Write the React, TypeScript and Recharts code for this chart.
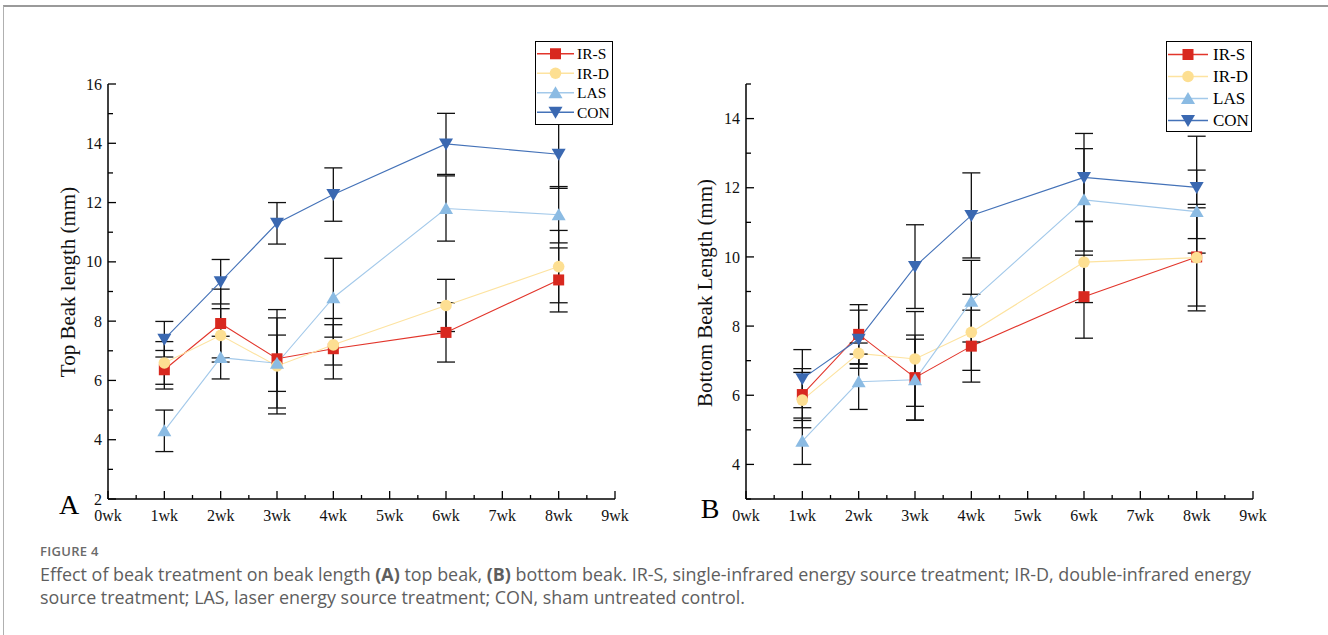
import { LineChart, Line, XAxis, YAxis, ErrorBar, Legend } from 'recharts';

const weeks = [1, 2, 3, 4, 6, 8];
const xTicks = [0, 0.5, 1, 1.5, 2, 2.5, 3, 3.5, 4, 4.5, 5, 5.5, 6, 6.5, 7, 7.5, 8, 8.5, 9];

// (A) top beak length, mm, mean and SD
const topIRS = [6.36, 7.92, 6.73, 7.07, 7.62, 9.39];
const topIRSErr = [0.65, 1.16, 1.66, 1.02, 1.0, 1.08];
const topIRD = [6.59, 7.52, 6.49, 7.2, 8.53, 9.84];
const topIRDErr = [0.72, 0.9, 1.62, 0.68, 0.88, 1.22];
const topLAS = [4.3, 6.77, 6.58, 8.79, 11.8, 11.59];
const topLASErr = [0.7, 0.72, 0.95, 1.33, 1.1, 0.95];
const topCON = [7.39, 9.33, 11.3, 12.27, 13.98, 13.63];
const topCONErr = [0.6, 0.75, 0.7, 0.9, 1.03, 1.15];

// (B) bottom beak length, mm
const botIRS = [6.02, 7.76, 6.51, 7.42, 8.85, 10.0];
const botIRSErr = [0.75, 0.86, 1.23, 1.04, 1.2, 1.42];
const botIRD = [5.86, 7.21, 7.05, 7.82, 9.85, 9.98];
const botIRDErr = [0.8, 0.3, 1.37, 1.1, 1.17, 1.54];
const botLAS = [4.67, 6.39, 6.45, 8.72, 11.65, 11.31];
const botLASErr = [0.67, 0.8, 1.17, 1.18, 1.48, 1.2];
const botCON = [6.48, 7.62, 9.72, 11.2, 12.3, 12.01];
const botCONErr = [0.84, 0.84, 1.21, 1.23, 1.27, 1.48];

const series = [
  { key: 'irs', name: 'IR-S', shape: 'square', line: '#e2352b', fill: '#d8281f' },
  { key: 'ird', name: 'IR-D', shape: 'circle', line: '#fde3a0', fill: '#fddf92' },
  { key: 'las', name: 'LAS', shape: 'up', line: '#a3c9ea', fill: '#8bbbe3' },
  { key: 'con', name: 'CON', shape: 'down', line: '#4472b8', fill: '#3a68b1' },
];

const topData = weeks.map((w, i) => ({
  week: w,
  irs: topIRS[i], irsErr: topIRSErr[i],
  ird: topIRD[i], irdErr: topIRDErr[i],
  las: topLAS[i], lasErr: topLASErr[i],
  con: topCON[i], conErr: topCONErr[i],
}));

const botData = weeks.map((w, i) => ({
  week: w,
  irs: botIRS[i], irsErr: botIRSErr[i],
  ird: botIRD[i], irdErr: botIRDErr[i],
  las: botLAS[i], lasErr: botLASErr[i],
  con: botCON[i], conErr: botCONErr[i],
}));

const SERIF = '"Liberation Serif", "Times New Roman", serif';
const SANS = '"Open Sans", "Noto Sans", sans-serif';

const Symbol = ({ kind, x, y, color, s = 1 }: any) => {
  if (kind === 'square') return <rect x={x - 5.5 * s} y={y - 5.5 * s} width={11 * s} height={11 * s} fill={color} />;
  if (kind === 'circle') return <circle cx={x} cy={y} r={5.8 * s} fill={color} />;
  if (kind === 'up') return <path d={`M${x},${y - 6.5 * s} L${x + 7 * s},${y + 5.5 * s} L${x - 7 * s},${y + 5.5 * s} Z`} fill={color} />;
  return <path d={`M${x},${y + 6.5 * s} L${x + 7 * s},${y - 5.5 * s} L${x - 7 * s},${y - 5.5 * s} Z`} fill={color} />;
};

const dotFor = (kind: string, color: string) => (p: any) => (
  <Symbol key={`${kind}-${p.index}`} kind={kind} x={p.cx} y={p.cy} color={color} />
);

const XTick = ({ x, y, payload }: any) => {
  const v = payload.value;
  const major = Number.isInteger(v);
  return (
    <g>
      <line x1={x} x2={x} y1={y} y2={y - (major ? 8 : 4)} stroke="#000" strokeWidth={1.3} />
      {major && (
        <text x={x} y={y + 22} textAnchor="middle" fontFamily={SERIF} fontSize={16} fill="#111">
          {`${v}wk`}
        </text>
      )}
    </g>
  );
};

const YTick = ({ x, y, payload }: any) => {
  const v = payload.value;
  const major = v % 2 === 0;
  return (
    <g>
      <line x1={x} x2={x + (major ? 8 : 5)} y1={y} y2={y} stroke="#000" strokeWidth={1.3} />
      {major && (
        <text x={x - 6} y={y} dy="0.35em" textAnchor="end" fontFamily={SERIF} fontSize={16} fill="#111">
          {v}
        </text>
      )}
    </g>
  );
};

const LegendBox = ({ rowH, fontSize, lineW, textX, width, height, padTop }: any) => (
  <div style={{ width, height, border: '1.3px solid #000', background: '#fff', boxSizing: 'border-box' }}>
    <svg width={width - 2} height={height - 2} style={{ display: 'block' }}>
      {series.map((s, i) => {
        const cy = padTop + rowH * i + rowH / 2;
        return (
          <g key={s.key}>
            <line x1={1} x2={1 + lineW} y1={cy} y2={cy} stroke={s.line} strokeWidth={1.5} />
            <Symbol kind={s.shape} x={1 + lineW / 2} y={cy} color={s.fill} />
            <text x={textX} y={cy} dy="0.35em" fontFamily={SERIF} fontSize={fontSize} fill="#000">
              {s.name}
            </text>
          </g>
        );
      })}
    </svg>
  </div>
);

const Panel = ({ data, domain, yTicks, legend, legendPos }: any) => (
  <LineChart width={664} height={540} data={data} margin={{ top: 84, right: 49, bottom: 11, left: 0 }}>
    <XAxis
      dataKey="week"
      type="number"
      domain={[0, 9]}
      ticks={xTicks}
      interval={0}
      height={30}
      tickSize={0}
      tickMargin={0}
      tickLine={false}
      tick={<XTick />}
      axisLine={{ stroke: '#000', strokeWidth: 1.5 }}
    />
    <YAxis
      type="number"
      domain={domain}
      ticks={yTicks}
      interval={0}
      width={108}
      tickSize={0}
      tickMargin={0}
      tickLine={false}
      tick={<YTick />}
      axisLine={{ stroke: '#000', strokeWidth: 1.5 }}
    />
    {series.map((s) => (
      <Line
        key={s.key}
        dataKey={s.key}
        name={s.name}
        type="linear"
        stroke={s.line}
        strokeWidth={1.1}
        dot={dotFor(s.shape, s.fill)}
        activeDot={false}
        isAnimationActive={false}
      >
        <ErrorBar dataKey={`${s.key}Err`} direction="y" width={9} stroke="#111" strokeWidth={1.3} />
      </Line>
    ))}
    <Legend
      layout="horizontal"
      verticalAlign="middle"
      align="center"
      wrapperStyle={{ position: 'absolute', left: legendPos[0], top: legendPos[1], width: 'auto', height: 'auto' }}
      content={() => <LegendBox {...legend} />}
    />
  </LineChart>
);

export default function App() {
  return (
    <div style={{ position: 'absolute', left: 0, top: 0, width: 1328, height: 635, background: '#fff', overflow: 'hidden' }}>
      <div
        style={{
          position: 'absolute', left: 3, top: 5, width: 1340, height: 700,
          borderTop: '2px solid #9a9a9a', borderLeft: '1px solid #b0b0b0',
        }}
      />
      <div style={{ position: 'absolute', left: 0, top: 0 }}>
        <Panel
          data={topData}
          domain={[2, 16]}
          yTicks={[2, 3, 4, 5, 6, 7, 8, 9, 10, 11, 12, 13, 14, 15, 16]}
          legendPos={[535, 41]}
          legend={{ width: 78, height: 84, rowH: 19.5, padTop: 2, fontSize: 15.5, lineW: 37, textX: 41 }}
        />
      </div>
      <div style={{ position: 'absolute', left: 638, top: 0 }}>
        <Panel
          data={botData}
          domain={[3, 15]}
          yTicks={[3, 4, 5, 6, 7, 8, 9, 10, 11, 12, 13, 14, 15]}
          legendPos={[528, 41]}
          legend={{ width: 86, height: 91, rowH: 22, padTop: 1.5, fontSize: 17, lineW: 40, textX: 46 }}
        />
      </div>
      <svg width={1328} height={635} style={{ position: 'absolute', left: 0, top: 0, pointerEvents: 'none' }}>
        <text x={69} y={514} textAnchor="middle" fontFamily={SERIF} fontSize={28} fill="#000">A</text>
        <text x={710} y={518} textAnchor="middle" fontFamily={SERIF} fontSize={28} fill="#000">B</text>
        <text transform="translate(75,282) rotate(-90)" textAnchor="middle" fontFamily={SERIF} fontSize={21} fill="#111">
          Top Beak length (mm)
        </text>
        <text transform="translate(712,293) rotate(-90)" textAnchor="middle" fontFamily={SERIF} fontSize={21} fill="#111">
          Bottom Beak Length (mm)
        </text>
      </svg>
      <div
        style={{
          position: 'absolute', left: 40, top: 542, fontFamily: SANS, fontSize: 13,
          fontWeight: 600, color: '#6a6a6a', letterSpacing: 0.3, whiteSpace: 'nowrap',
        }}
      >
        FIGURE 4
      </div>
      <div
        style={{
          position: 'absolute', left: 40, top: 563, fontFamily: SANS, fontSize: 17.9,
          lineHeight: '23px', color: '#5e5e5e', whiteSpace: 'nowrap',
        }}
      >
        <div>
          Effect of beak treatment on beak length <b>(A)</b> top beak, <b>(B)</b> bottom beak. IR-S, single-infrared
          energy source treatment; IR-D, double-infrared energy
        </div>
        <div>source treatment; LAS, laser energy source treatment; CON, sham untreated control.</div>
      </div>
    </div>
  );
}
